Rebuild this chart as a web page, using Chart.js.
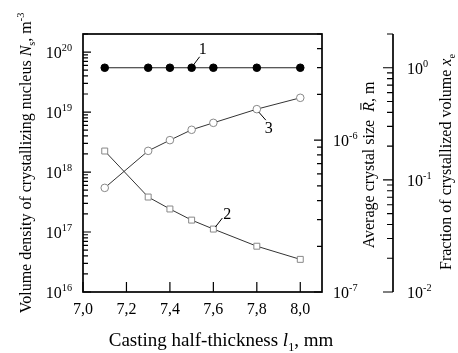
<!DOCTYPE html>
<html>
<head>
<meta charset="utf-8">
<script src="https://cdn.jsdelivr.net/npm/chart.js@4/dist/chart.umd.min.js"></script>
<style>
  html, body { margin: 0; padding: 0; background: #fff; }
  canvas { display: block; }
</style>
</head>
<body>
<canvas id="myChart" width="458" height="353"></canvas>
<script>
// casting half-thickness, mm
const thickness = [7.1, 7.3, 7.4, 7.5, 7.6, 7.8, 8.0];
// curve 1: fraction of crystallized volume x_e
const volumeFraction = [1, 1, 1, 1, 1, 1, 1];
// curve 2: volume density of crystallizing nucleus N_s, m^-3
const nucleusDensity = [2.24e18, 3.83e17, 2.42e17, 1.58e17, 1.12e17, 5.8e16, 3.5e16];
// curve 3: average crystal size R, m
const crystalSize = [4.85e-7, 8.5e-7, 1.0e-6, 1.17e-6, 1.3e-6, 1.6e-6, 1.9e-6];

// tick labels
const xTicks = [7.0, 7.2, 7.4, 7.6, 7.8, 8.0];
const nExps = [16, 17, 18, 19, 20];
const rExps = [-7, -6];
const feExps = [-2, -1, 0];

const FONT = "'Liberation Serif', 'Times New Roman', serif";

// minor + major ticks of a log axis
const logTicks = (min, max) => {
  let out = [];
  for (let e = Math.floor(Math.log10(min)); e <= Math.ceil(Math.log10(max)); e++) {
    for (let m = 1; m <= 9; m++) {
      let v = m * Math.pow(10, e);
      if (v >= min * 0.999 && v <= max * 1.001) out.push({ value: v, major: m === 1 });
    }
  }
  return out;
};

const fontOf = (p, size) => (p.it ? 'italic ' : '') + size + 'px ' + FONT;

// draws text pieces with italic / sub / sup / overbar
const drawRich = (ctx, parts, x, y, size, align, angle) => {
  ctx.save();
  ctx.translate(x, y);
  if (angle) ctx.rotate(angle);
  ctx.textBaseline = 'alphabetic';
  ctx.textAlign = 'left';
  let widths = parts.map(p => {
    ctx.font = fontOf(p, (p.sub || p.sup) ? size * 0.64 : size);
    return ctx.measureText(p.t).width;
  });
  let total = widths.reduce((a, b) => a + b, 0);
  let cx = align === 'center' ? -total / 2 : align === 'right' ? -total : 0;
  parts.forEach((p, i) => {
    let s = (p.sub || p.sup) ? size * 0.64 : size;
    ctx.font = fontOf(p, s);
    let dy = p.sub ? size * 0.28 : p.sup ? -size * 0.42 : 0;
    ctx.fillStyle = '#000';
    ctx.fillText(p.t, cx, dy);
    if (p.bar) {
      ctx.lineWidth = 1;
      ctx.beginPath();
      ctx.moveTo(cx + 2, dy - size * 0.82);
      ctx.lineTo(cx + widths[i] - 1, dy - size * 0.82);
      ctx.stroke();
    }
    cx += widths[i];
  });
  ctx.restore();
};

const pow10 = e => [{ t: '10' }, { t: String(e), sup: true }];

const annotations = [
  { text: '1', ds: 0, idx: 3, line: [2, -3, 8, -11], lbl: [11, -14] },
  { text: '2', ds: 1, idx: 4, line: [2, -2, 9, -11], lbl: [14, -10] },
  { text: '3', ds: 2, idx: 5, line: [2, 3, 9, 11], lbl: [12, 24] }
];

const axesPlugin = {
  id: 'axesPlugin',
  afterDraw(chart) {
    const ctx = chart.ctx;
    const a = chart.chartArea;
    const sx = chart.scales.x, sN = chart.scales.yN, sR = chart.scales.yR, sF = chart.scales.yF;
    const fx = sF.left;
    ctx.save();
    ctx.strokeStyle = '#000';
    ctx.lineWidth = 1.7;
    ctx.strokeRect(a.left, a.top, a.right - a.left, a.bottom - a.top);
    ctx.beginPath();
    ctx.moveTo(fx, a.top);
    ctx.lineTo(fx, a.bottom);
    ctx.stroke();

    ctx.lineWidth = 1.2;
    ctx.beginPath();
    // x ticks point up
    xTicks.forEach(v => {
      let px = sx.getPixelForValue(v);
      ctx.moveTo(px, a.bottom);
      ctx.lineTo(px, a.bottom - 10);
    });
    logTicks(sN.min, sN.max).forEach(t => {
      let py = sN.getPixelForValue(t.value);
      ctx.moveTo(a.left, py);
      ctx.lineTo(a.left + (t.major ? 8 : 5), py);
    });
    logTicks(sR.min, sR.max).forEach(t => {
      let py = sR.getPixelForValue(t.value);
      ctx.moveTo(a.right, py);
      ctx.lineTo(a.right - (t.major ? 8 : 5), py);
    });
    logTicks(sF.min, sF.max).forEach(t => {
      let py = sF.getPixelForValue(t.value);
      ctx.moveTo(fx, py);
      ctx.lineTo(fx - (t.major ? 10 : 6), py);
    });
    ctx.stroke();

    // tick labels
    xTicks.forEach(v => {
      drawRich(ctx, [{ t: v.toFixed(1).replace('.', ',') }], sx.getPixelForValue(v), a.bottom + 22, 16, 'center');
    });
    nExps.forEach(e => {
      drawRich(ctx, pow10(e), a.left - 11, sN.getPixelForValue(Math.pow(10, e)) + 6, 16, 'right');
    });
    rExps.forEach(e => {
      drawRich(ctx, pow10(e), a.right + 11, sR.getPixelForValue(Math.pow(10, e)) + 6, 16, 'left');
    });
    feExps.forEach(e => {
      drawRich(ctx, pow10(e), fx + 14, sF.getPixelForValue(Math.pow(10, e)) + 6, 16, 'left');
    });

    // axis titles
    drawRich(ctx, [
      { t: 'Volume density of crystallizing nucleus ' }, { t: 'N', it: true }, { t: 's', sub: true },
      { t: ', m' }, { t: '-3', sup: true }
    ], 31, 163, 16, 'center', -Math.PI / 2);
    drawRich(ctx, [
      { t: 'Average crystal size  ' }, { t: 'R', it: true, bar: true }, { t: ', m' }
    ], 374, 165, 16, 'center', -Math.PI / 2);
    drawRich(ctx, [
      { t: 'Fraction of crystallized volume ' }, { t: 'x', it: true }, { t: 'e', sub: true }
    ], 451, 162, 16, 'center', -Math.PI / 2);
    drawRich(ctx, [
      { t: 'Casting half-thickness ' }, { t: 'l', it: true }, { t: '1', sub: true }, { t: ', mm' }
    ], 221, 346, 19, 'center');

    // curve numbers
    ctx.lineWidth = 1;
    annotations.forEach(n => {
      let el = chart.getDatasetMeta(n.ds).data[n.idx];
      ctx.beginPath();
      ctx.moveTo(el.x + n.line[0], el.y + n.line[1]);
      ctx.lineTo(el.x + n.line[2], el.y + n.line[3]);
      ctx.stroke();
      drawRich(ctx, [{ t: n.text }], el.x + n.lbl[0], el.y + n.lbl[1], 16, 'center');
    });
    ctx.restore();
  }
};

const hiddenAxis = (extra) => Object.assign({
  grid: { display: false },
  border: { display: false },
  ticks: { display: false }
}, extra);

new Chart(document.getElementById('myChart'), {
  type: 'line',
  data: {
    datasets: [{
      label: 'x_e',
      data: thickness.map((x, i) => ({ x, y: volumeFraction[i] })),
      yAxisID: 'yF',
      borderColor: '#222',
      borderWidth: 1,
      pointStyle: 'circle',
      pointRadius: 3.8,
      pointBackgroundColor: '#000',
      pointBorderColor: '#000',
      pointBorderWidth: 1
    }, {
      label: 'N_s',
      data: thickness.map((x, i) => ({ x, y: nucleusDensity[i] })),
      yAxisID: 'yN',
      borderColor: '#333',
      borderWidth: 1,
      pointStyle: 'rect',
      pointRadius: 4.2,
      pointBackgroundColor: '#fff',
      pointBorderColor: '#888',
      pointBorderWidth: 1
    }, {
      label: 'R',
      data: thickness.map((x, i) => ({ x, y: crystalSize[i] })),
      yAxisID: 'yR',
      borderColor: '#333',
      borderWidth: 1,
      pointStyle: 'circle',
      pointRadius: 3.8,
      pointBackgroundColor: '#fff',
      pointBorderColor: '#888',
      pointBorderWidth: 1
    }]
  },
  options: {
    responsive: false,
    animation: false,
    devicePixelRatio: 1,
    layout: { padding: { left: 83, right: 65, top: 34, bottom: 61 } },
    plugins: { legend: { display: false }, tooltip: { enabled: false } },
    scales: {
      x: hiddenAxis({ type: 'linear', min: 7.0, max: 8.1, afterFit: s => { s.height = 0; } }),
      yN: hiddenAxis({ type: 'logarithmic', position: 'left', min: 1e16, max: 2e20, afterFit: s => { s.width = 0; } }),
      yR: hiddenAxis({ type: 'logarithmic', position: 'right', min: 1e-7, max: 5e-6, afterFit: s => { s.width = 71; } }),
      yF: hiddenAxis({ type: 'logarithmic', position: 'right', min: 1e-2, max: 2, afterFit: s => { s.width = 0; } })
    }
  },
  plugins: [axesPlugin]
});
</script>
</body>
</html>
